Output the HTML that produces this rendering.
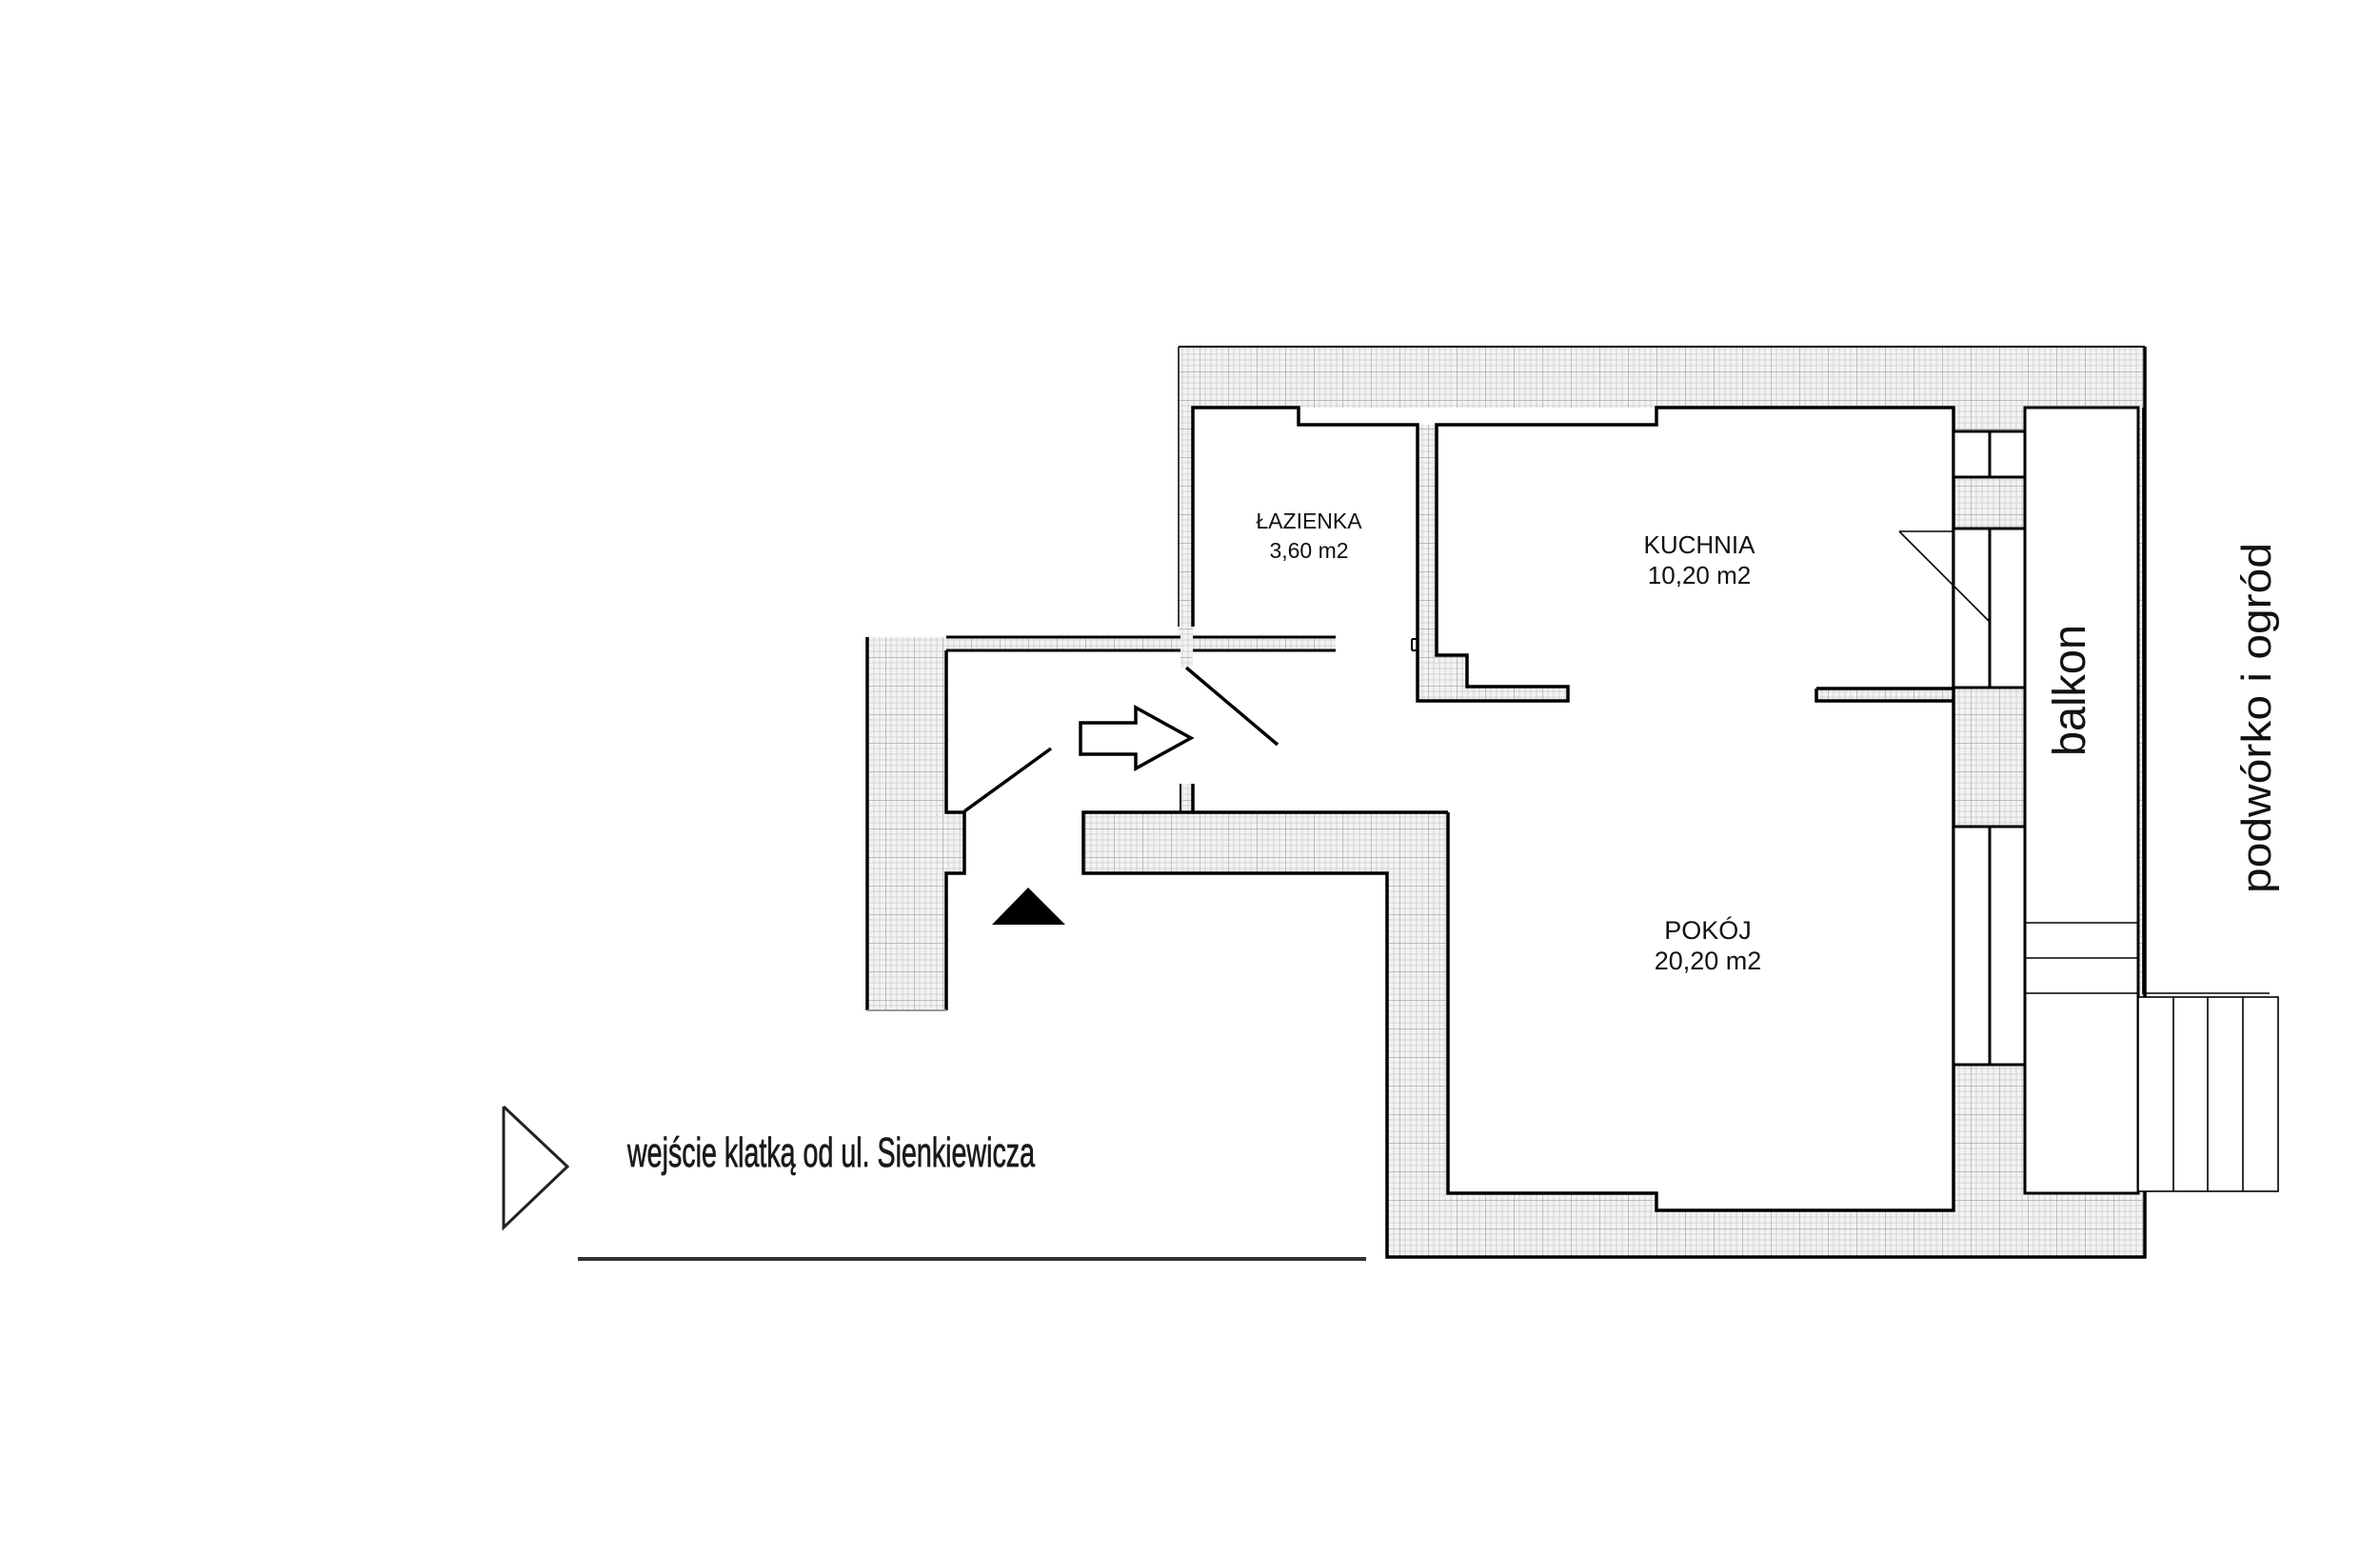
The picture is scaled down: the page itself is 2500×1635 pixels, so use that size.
<!DOCTYPE html>
<html><head><meta charset="utf-8"><style>
html,body{margin:0;padding:0;background:#fff;}
svg{display:block;}
</style></head><body>
<svg width="2500" height="1635" viewBox="0 0 2500 1635" xmlns="http://www.w3.org/2000/svg">
<defs>
<pattern id="g" width="30" height="30" patternUnits="userSpaceOnUse">
<rect width="30" height="30" fill="#f3f3f3"/>
<path d="M6 0V30M12 0V30M18 0V30M24 0V30M0 6H30M0 12H30M0 18H30M0 24H30" stroke="#cccccc" stroke-width="0.8"/>
<path d="M0 0V30M0 0H30" stroke="#a9a9a9" stroke-width="1.4"/>
</pattern>
</defs>
<g fill="url(#g)">
<rect x="1238" y="364" width="1015" height="64"/>
<rect x="2052" y="428" width="201" height="892"/>
<rect x="1457" y="1253" width="796" height="67"/>
<rect x="1457" y="853" width="64" height="467"/>
<rect x="1138" y="853" width="383" height="64"/>
<rect x="1238" y="428" width="15" height="242"/>
<rect x="994" y="669" width="409" height="14"/>
<rect x="1489" y="446" width="20" height="290"/>
<polygon points="1489,688 1541,688 1541,721 1647,721 1647,736 1489,736"/>
<rect x="1908" y="723" width="144" height="13"/>
<polygon points="911,669 994,669 994,853 1013,853 1013,917 994,917 994,1061 911,1061"/>
<rect x="1240" y="658" width="13" height="43"/>
<rect x="1240" y="823" width="13" height="30"/>
<rect x="1740" y="1253" width="312" height="18" fill="#fff"/>
</g>
<g fill="none" stroke="#000" stroke-width="3.5" stroke-linejoin="miter">
<line x1="1238" y1="364" x2="2253" y2="364" stroke-width="2"/>
<polyline points="1253,658 1253,428 1364,428 1364,446 1489,446 1489,736 1647,736 1647,721 1541,721 1541,688 1509,688 1509,446 1740,446 1740,428 2052,428 2052,736"/>
<polyline points="1908,723 2052,723"/>
<polyline points="1908,723 1908,736 2052,736"/>
<polyline points="1521,853 1521,1253 1740,1253 1740,1271 2052,1271 2052,736"/>
<polyline points="1253,823 1253,853 1138,853 1138,917 1457,917 1457,1320 2253,1320 2253,364"/>
<line x1="1253" y1="853" x2="1521" y2="853"/>
<line x1="1238" y1="364" x2="1238" y2="658" stroke-width="1.5"/>
<line x1="1240" y1="823" x2="1240" y2="853" stroke-width="2"/>
<polyline points="994,669 1240,669" stroke-width="3"/>
<polyline points="1253,669 1403,669" stroke-width="3"/>
<polyline points="994,683 1240,683" stroke-width="3"/>
<polyline points="1253,683 1403,683" stroke-width="3"/>
<line x1="1483" y1="671" x2="1489" y2="671" stroke-width="2"/>
<line x1="1483" y1="683" x2="1489" y2="683" stroke-width="2"/>
<line x1="1483" y1="671" x2="1483" y2="683" stroke-width="2"/>
<line x1="911" y1="669" x2="911" y2="1061"/>
<polyline points="994,683 994,853 1013,853 1013,917 994,917 994,1061"/>
<line x1="911" y1="1061" x2="994" y2="1061" stroke="#999" stroke-width="2"/>
<line x1="1246" y1="701" x2="1342" y2="782"/>
<line x1="1013" y1="852" x2="1104" y2="786"/>
<polygon points="1135,759 1193,759 1193,743 1251,775 1193,807 1193,792 1135,792"/>
</g>
<g stroke="#000" stroke-width="3" fill="#fff">
<rect x="2052" y="453" width="75" height="48"/>
<line x1="2090" y1="453" x2="2090" y2="501"/>
<rect x="2052" y="555" width="75" height="167"/>
<line x1="2090" y1="555" x2="2090" y2="722"/>
<rect x="2052" y="868" width="75" height="250"/>
<line x1="2090" y1="868" x2="2090" y2="1118"/>
<rect x="2127" y="428" width="119" height="825"/>
</g>
<g stroke="#000" fill="none" stroke-width="1.6">
<line x1="1995" y1="558" x2="2052" y2="558"/>
<line x1="1995" y1="558" x2="2090" y2="653"/>
<line x1="2127" y1="969" x2="2246" y2="969"/>
<line x1="2127" y1="1006" x2="2246" y2="1006"/>
<line x1="2127" y1="1043" x2="2246" y2="1043"/>
<rect x="2246" y="1047" width="147" height="204" fill="#fff"/>
<line x1="2283" y1="1047" x2="2283" y2="1251"/>
<line x1="2319" y1="1047" x2="2319" y2="1251"/>
<line x1="2356" y1="1047" x2="2356" y2="1251"/>
<polyline points="2251,428 2251,1043 2384,1043"/>
</g>
<polygon points="1042,971 1080,932 1119,971" fill="#000"/>
<polyline points="529,1162 596,1225 529,1289 529,1162" fill="none" stroke="#222" stroke-width="3"/>
<line x1="607" y1="1322" x2="1435" y2="1322" stroke="#333" stroke-width="4"/>
<g font-family="Liberation Sans, Arial, sans-serif" fill="#111" text-anchor="middle">
<text x="1375" y="555" font-size="23">ŁAZIENKA</text>
<text x="1375" y="586" font-size="23">3,60 m2</text>
<text x="1785" y="581" font-size="26">KUCHNIA</text>
<text x="1785" y="613" font-size="26">10,20 m2</text>
<text x="1794" y="986" font-size="27">POKÓJ</text>
<text x="1794" y="1018" font-size="27">20,20 m2</text>
<text transform="translate(2190,725) rotate(-90)" font-size="48" textLength="138" lengthAdjust="spacingAndGlyphs" x="0" y="0">balkon</text>
<text transform="translate(2385,754) rotate(-90)" font-size="44" textLength="368" lengthAdjust="spacingAndGlyphs" x="0" y="0" font-family="Liberation Sans Narrow, Liberation Sans, sans-serif">podwórko i ogród</text>
</g>
<text x="659" y="1225" font-family="Liberation Sans Narrow, Liberation Sans, sans-serif" font-size="44" fill="#1a1a1a" stroke="#1a1a1a" stroke-width="0.8" textLength="428" lengthAdjust="spacingAndGlyphs">wejście klatką od ul. Sienkiewicza</text>
</svg>
</body></html>
